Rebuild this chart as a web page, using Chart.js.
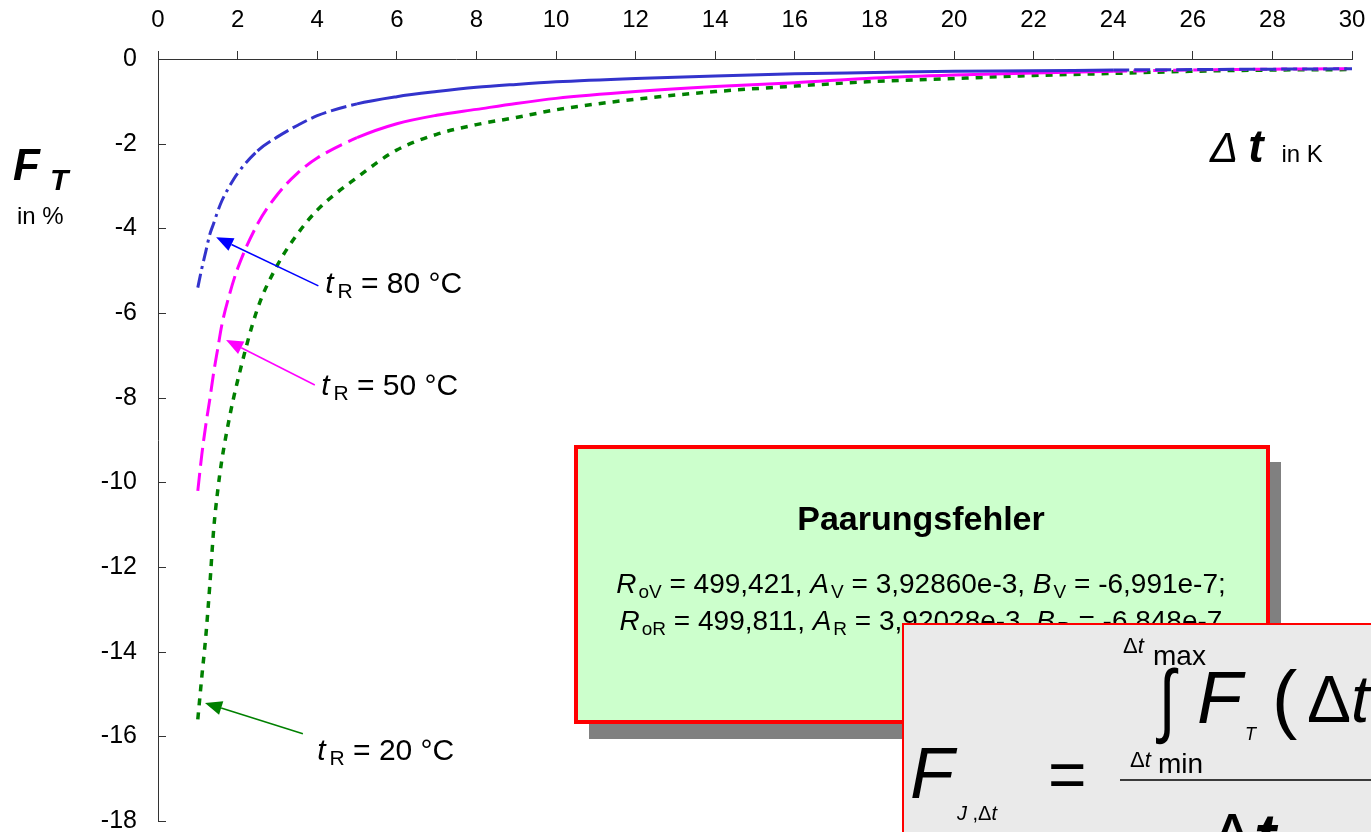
<!DOCTYPE html>
<html>
<head>
<meta charset="utf-8">
<script src="https://cdn.jsdelivr.net/npm/chart.js@4.4.1/dist/chart.umd.min.js"></script>
<style>
  body { margin: 0; background: #fff; }
</style>
</head>
<body>
<canvas id="fehlerChart" width="1371" height="832"></canvas>
<script>
// Δt in K
const deltaT = [1, 1.1, 1.2, 1.3, 1.4, 1.5, 1.6, 1.8, 2, 2.5, 3, 3.5, 4, 5, 6, 7, 8, 9, 10,
                12, 14, 16, 18, 20, 22, 24, 26, 28, 30];
// F_T in % for tR = 80 °C, 50 °C, 20 °C
const fehler80 = [-5.40, -4.95, -4.55, -4.15, -3.88, -3.60, -3.36, -3.00, -2.70, -2.17, -1.84, -1.57, -1.34,
                  -1.06, -0.89, -0.77, -0.67, -0.60, -0.54, -0.46, -0.40, -0.35, -0.32, -0.29, -0.28,
                  -0.26, -0.25, -0.24, -0.23];
const fehler50 = [-10.20, -9.35, -8.65, -8.05, -7.40, -6.85, -6.30, -5.55, -4.95, -3.90, -3.20, -2.70, -2.34,
                  -1.86, -1.53, -1.33, -1.19, -1.05, -0.93, -0.77, -0.65, -0.56, -0.45, -0.38, -0.33,
                  -0.29, -0.26, -0.24, -0.23];
const fehler20 = [-15.60, -14.60, -13.65, -12.45, -11.10, -10.20, -9.50, -8.45, -7.60, -5.90, -4.87, -4.14, -3.57,
                  -2.80, -2.15, -1.78, -1.55, -1.38, -1.20, -0.95, -0.77, -0.64, -0.53, -0.46, -0.39,
                  -0.34, -0.29, -0.26, -0.25];
const xTicks = [0, 2, 4, 6, 8, 10, 12, 14, 16, 18, 20, 22, 24, 26, 28, 30];
const yTicks = [0, -2, -4, -6, -8, -10, -12, -14, -16, -18];

const SANS = '"Liberation Sans", Arial, sans-serif';

function toPoints(values) {
    return deltaT.map((x, i) => ({ x: x, y: values[i] }));
}

// Excel-like look: dashes near the steep start, solid where points are dense
function dash80(ctx) {
    const x = ctx.p0.parsed.x;
    if (x < 2.2) return [14, 5, 3, 5];
    if (x < 5) return [16, 5];
    if (x < 24) return [];
    return [16, 5];
}
function dash50(ctx) {
    const x = ctx.p0.parsed.x;
    if (x < 5) return [18, 7];
    if (x < 24) return [];
    return [14, 6];
}

function rich(ctx, x, y, parts, measureOnly) {
    let w = 0;
    parts.forEach(p => {
        ctx.font = p.f;
        w += (p.dx || 0);
        if (!measureOnly) ctx.fillText(p.t, x + w, y + (p.dy || 0));
        w += ctx.measureText(p.t).width;
    });
    return w;
}
function richCentered(ctx, cx, y, parts) {
    const w = rich(ctx, 0, 0, parts, true);
    rich(ctx, cx - w / 2, y, parts);
}

function arrow(ctx, x1, y1, x2, y2, color) {
    const a = Math.atan2(y2 - y1, x2 - x1);
    const len = 17, half = 7;
    const bx = x2 - len * Math.cos(a), by = y2 - len * Math.sin(a);
    ctx.strokeStyle = color;
    ctx.fillStyle = color;
    ctx.lineWidth = 1.5;
    ctx.beginPath();
    ctx.moveTo(x1, y1);
    ctx.lineTo(bx, by);
    ctx.stroke();
    ctx.beginPath();
    ctx.moveTo(x2, y2);
    ctx.lineTo(bx + half * Math.sin(a), by - half * Math.cos(a));
    ctx.lineTo(bx - half * Math.sin(a), by + half * Math.cos(a));
    ctx.closePath();
    ctx.fill();
}

const innerTicks = {
    id: 'innerTicks',
    beforeDatasetsDraw(chart) {
        const { ctx, scales: { y } } = chart;
        ctx.save();
        ctx.strokeStyle = '#333';
        ctx.lineWidth = 1;
        y.ticks.forEach(t => {
            const py = Math.round(y.getPixelForValue(t.value)) + 0.5;
            ctx.beginPath();
            ctx.moveTo(y.right, py);
            ctx.lineTo(y.right + 8, py);
            ctx.stroke();
        });
        ctx.restore();
    }
};

const annotations = {
    id: 'annotations',
    afterDatasetsDraw(chart) {
        const { ctx, scales: { x, y } } = chart;
        const px = v => x.getPixelForValue(v);
        const py = v => y.getPixelForValue(v);
        ctx.save();
        ctx.textBaseline = 'alphabetic';
        ctx.textAlign = 'left';

        // axis titles
        ctx.fillStyle = '#000';
        rich(ctx, 13, 180, [{ t: 'F', f: 'bold italic 44px ' + SANS }]);
        rich(ctx, 50, 190, [{ t: 'T', f: 'bold italic 30px ' + SANS }]);
        rich(ctx, 17, 224, [{ t: 'in %', f: '24px ' + SANS }]);
        rich(ctx, 1210, 162, [
            { t: 'Δ', f: 'italic 42px ' + SANS },
            { t: 't', f: 'bold italic 46px ' + SANS, dx: 10 },
            { t: 'in K', f: '24px ' + SANS, dx: 18 }
        ]);

        // arrows and curve labels
        arrow(ctx, px(4.03), py(-5.36), px(1.46), py(-4.21), '#0000ff');
        arrow(ctx, px(3.94), py(-7.70), px(1.71), py(-6.64), '#ff00ff');
        arrow(ctx, px(3.64), py(-15.94), px(1.18), py(-15.21), '#008000');
        ctx.fillStyle = '#000';
        const label = (vx, vy, temp) => rich(ctx, px(vx), py(vy), [
            { t: 't', f: 'italic 30px ' + SANS },
            { t: 'R', f: '21px ' + SANS, dy: 5, dx: 4 },
            { t: ' = ' + temp + ' °C', f: '30px ' + SANS }
        ]);
        label(4.2, -5.53, '80');
        label(4.1, -7.93, '50');
        label(4.0, -16.55, '20');

        // Paarungsfehler box
        ctx.fillStyle = '#808080';
        ctx.fillRect(589, 462, 692, 277);
        ctx.fillStyle = '#ccffcc';
        ctx.fillRect(576, 447, 692, 275);
        ctx.strokeStyle = '#ff0000';
        ctx.lineWidth = 4;
        ctx.strokeRect(576, 447, 692, 275);
        ctx.fillStyle = '#000';
        ctx.font = 'bold 34px ' + SANS;
        ctx.textAlign = 'center';
        ctx.fillText('Paarungsfehler', 921, 530);
        ctx.textAlign = 'left';
        const it = 'italic 28px ' + SANS, rg = '28px ' + SANS, sb = '19px ' + SANS;
        richCentered(ctx, 921, 593, [
            { t: 'R', f: it }, { t: 'oV', f: sb, dy: 5, dx: 2 }, { t: ' = 499,421, ', f: rg },
            { t: 'A', f: it }, { t: 'V', f: sb, dy: 5, dx: 2 }, { t: ' = 3,92860e-3, ', f: rg },
            { t: 'B', f: it }, { t: 'V', f: sb, dy: 5, dx: 2 }, { t: ' = -6,991e-7;', f: rg }
        ]);
        richCentered(ctx, 921, 630, [
            { t: 'R', f: it }, { t: 'oR', f: sb, dy: 5, dx: 2 }, { t: ' = 499,811, ', f: rg },
            { t: 'A', f: it }, { t: 'R', f: sb, dy: 5, dx: 2 }, { t: ' = 3,92028e-3, ', f: rg },
            { t: 'B', f: it }, { t: 'R', f: sb, dy: 5, dx: 2 }, { t: ' = -6,848e-7', f: rg }
        ]);

        // formula box
        ctx.fillStyle = '#eaeaea';
        ctx.fillRect(903, 624, 520, 260);
        ctx.strokeStyle = '#ff0000';
        ctx.lineWidth = 2;
        ctx.strokeRect(903, 624, 520, 260);
        ctx.fillStyle = '#000';
        rich(ctx, 1123, 653, [{ t: 'Δ', f: '22px ' + SANS }, { t: 't', f: 'italic 22px ' + SANS }]);
        rich(ctx, 1153, 665, [{ t: 'max', f: '28px ' + SANS }]);
        ctx.save();
        ctx.translate(1167, 705);
        ctx.scale(1, 1.35);
        ctx.textAlign = 'center';
        ctx.textBaseline = 'middle';
        ctx.font = '60px ' + SANS;
        ctx.fillText('∫', 0, 0);
        ctx.restore();
        rich(ctx, 1197, 723, [{ t: 'F', f: 'italic 74px ' + SANS }]);
        rich(ctx, 1245, 740, [{ t: 'T', f: 'italic 18px ' + SANS }]);
        rich(ctx, 1272, 724, [{ t: '(', f: '76px ' + SANS }]);
        rich(ctx, 1307, 722, [{ t: 'Δ', f: '66px ' + SANS }, { t: 't', f: 'italic 66px ' + SANS }]);
        rich(ctx, 1130, 767, [{ t: 'Δ', f: '22px ' + SANS }, { t: 't', f: 'italic 22px ' + SANS }]);
        rich(ctx, 1158, 773, [{ t: 'min', f: '28px ' + SANS }]);
        ctx.strokeStyle = '#000';
        ctx.lineWidth = 1.5;
        ctx.beginPath();
        ctx.moveTo(1120, 780);
        ctx.lineTo(1380, 780);
        ctx.stroke();
        rich(ctx, 910, 798, [{ t: 'F', f: 'italic 72px ' + SANS }]);
        rich(ctx, 957, 820, [
            { t: 'J', f: 'italic 20px ' + SANS }, { t: ' ,', f: '20px ' + SANS },
            { t: 'Δ', f: '20px ' + SANS }, { t: 't', f: 'italic 20px ' + SANS }
        ]);
        ctx.textBaseline = 'middle';
        rich(ctx, 1048, 779, [{ t: '=', f: '66px ' + SANS }]);
        ctx.textBaseline = 'alphabetic';
        rich(ctx, 1210, 860, [{ t: 'Δ', f: '66px ' + SANS }, { t: 't', f: 'bold italic 66px ' + SANS }]);
        ctx.restore();
    }
};

new Chart(document.getElementById('fehlerChart'), {
    type: 'line',
    data: {
        datasets: [{
            label: 'tR = 80 °C',
            data: toPoints(fehler80),
            borderColor: '#3333cc',
            borderWidth: 3,
            segment: { borderDash: dash80 }
        }, {
            label: 'tR = 50 °C',
            data: toPoints(fehler50),
            borderColor: '#ff00ff',
            borderWidth: 3,
            segment: { borderDash: dash50 }
        }, {
            label: 'tR = 20 °C',
            data: toPoints(fehler20),
            borderColor: '#008000',
            borderWidth: 3.5,
            borderDash: [7, 7]
        }]
    },
    options: {
        responsive: false,
        animation: false,
        cubicInterpolationMode: 'monotone',
        pointRadius: 0,
        layout: { padding: { left: 0, top: 0, right: 19, bottom: 11 } },
        plugins: { legend: { display: false }, tooltip: { enabled: false } },
        scales: {
            x: {
                type: 'linear',
                position: 'top',
                min: 0,
                max: 30,
                afterBuildTicks: s => { s.ticks = xTicks.map(v => ({ value: v })); },
                afterFit: s => { s.height = 59; s.paddingLeft = 0; s.paddingRight = 0; },
                grid: { drawOnChartArea: false, tickLength: 8, color: '#333' },
                border: { color: '#333', width: 1 },
                ticks: { padding: 16, color: '#000', font: { size: 24, family: SANS }, maxRotation: 0 }
            },
            y: {
                min: -18,
                max: 0,
                afterBuildTicks: s => { s.ticks = yTicks.map(v => ({ value: v })); },
                afterFit: s => { s.width = 158; s.paddingTop = 0; s.paddingBottom = 0; },
                grid: { display: false, drawTicks: false },
                border: { display: true, color: '#333', width: 1 },
                ticks: { padding: 21, color: '#000', font: { size: 25, family: SANS } }
            }
        },
        elements: { line: { fill: false } }
    },
    plugins: [innerTicks, annotations]
});
</script>
</body>
</html>
